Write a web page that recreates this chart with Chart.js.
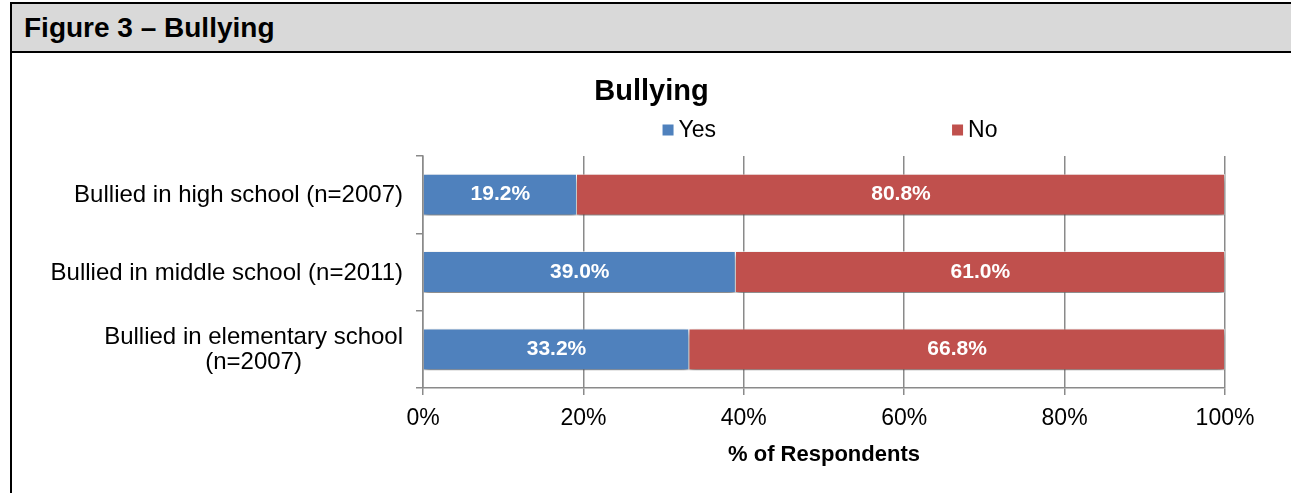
<!DOCTYPE html>
<html>
<head>
<meta charset="utf-8">
<script src="https://cdn.jsdelivr.net/npm/chart.js@4/dist/chart.umd.min.js"></script>
<style>
  body { margin: 0; background: #fff; font-family: "Liberation Sans", Arial, sans-serif; }
  #frame { position: absolute; left: 10px; top: 2px; width: 1281px; height: 491px;
           border-left: 2px solid #000; border-top: 2px solid #000; box-sizing: border-box; }
  #head { position: absolute; left: 0; top: 0; width: 100%; height: 49px; background: #d9d9d9;
          border-bottom: 2px solid #000; box-sizing: border-box; }
  #head span { position: absolute; left: 12px; top: 8px; font-size: 28px; font-weight: bold; color: #000; }
  #wrap { position: absolute; left: 12px; top: 53px; width: 1279px; height: 440px; }
</style>
</head>
<body>
<div id="frame"><div id="head"><span>Figure 3 – Bullying</span></div></div>
<div id="wrap"><canvas id="chart"></canvas></div>
<script>
// ── 데이터 ──
const categories = [
  ['Bullied in high school (n=2007)'],
  ['Bullied in middle school (n=2011)'],
  ['Bullied in elementary school', '(n=2007)']
];
const yesValues = [19.2, 39.0, 33.2];
const noValues = [80.8, 61.0, 66.8];
const xTicks = [0, 20, 40, 60, 80, 100];

const FONT = '"Liberation Sans", Arial, sans-serif';
const AXIS_GRAY = '#8a8a8a';

/** 막대 그림자 (엑셀 스타일) */
const shadowPlugin = {
  id: 'barShadow',
  beforeDatasetsDraw(chart) {
    const ctx = chart.ctx;
    ctx.save();
    ctx.shadowColor = 'rgba(0,0,0,0.5)';
    ctx.shadowBlur = 6;
    ctx.shadowOffsetX = 0;
    ctx.shadowOffsetY = 4;
  },
  afterDatasetsDraw(chart) {
    chart.ctx.restore();
  }
};

/** 값 라벨, 범례, y축 라벨 */
const labelPlugin = {
  id: 'customLabels',
  afterDatasetsDraw(chart) {
    const ctx = chart.ctx;
    ctx.save();
    ctx.font = 'bold 21px ' + FONT;
    ctx.fillStyle = '#fff';
    ctx.textAlign = 'center';
    ctx.textBaseline = 'middle';
    chart.data.datasets.forEach((ds, di) => {
      chart.getDatasetMeta(di).data.forEach((bar, i) => {
        const cx = (bar.x + bar.base) / 2;
        ctx.fillText(ds.data[i].toFixed(1) + '%', cx, bar.y);
      });
    });
    ctx.restore();
  },
  afterDraw(chart) {
    const ctx = chart.ctx;
    const area = chart.chartArea;
    ctx.save();

    // 범례
    ctx.font = '23px ' + FONT;
    ctx.textBaseline = 'middle';
    ctx.textAlign = 'left';
    const box = 11, gap = 236;
    const items = chart.data.datasets.map(ds => ({
      text: ds.label, color: ds.backgroundColor,
      w: box + 5 + ctx.measureText(ds.label).width
    }));
    const total = items.reduce((a, it) => a + it.w, 0) + gap * (items.length - 1);
    let x = (area.left + area.right) / 2 + 6 - total / 2;
    const ly = 77;
    items.forEach(it => {
      ctx.fillStyle = it.color;
      ctx.fillRect(x, ly - box / 2, box, box);
      ctx.fillStyle = '#000';
      ctx.fillText(it.text, x + box + 5, ly + 1);
      x += it.w + gap;
    });

    // y축 라벨
    const yScale = chart.scales.y;
    ctx.font = '24px ' + FONT;
    ctx.fillStyle = '#000';
    categories.forEach((lines, i) => {
      const py = yScale.getPixelForValue(i);
      const right = area.left - 20;
      if (lines.length === 1) {
        ctx.textAlign = 'right';
        ctx.fillText(lines[0], right, py + 1);
      } else {
        const w = Math.max(...lines.map(l => ctx.measureText(l).width));
        const cx = right - w / 2;
        ctx.textAlign = 'center';
        lines.forEach((l, k) => {
          ctx.fillText(l, cx, py + 1 + (k - (lines.length - 1) / 2) * 25);
        });
      }
    });
    ctx.restore();
  }
};

const ctx = document.getElementById('chart').getContext('2d');
new Chart(ctx, {
  type: 'bar',
  data: {
    labels: categories.map(c => c.join(' ')),
    datasets: [
      {
        label: 'Yes', data: yesValues,
        backgroundColor: '#4f81bd', borderColor: 'rgba(255,255,255,0.55)', borderWidth: 1,
        barPercentage: 0.54, categoryPercentage: 1
      },
      {
        label: 'No', data: noValues,
        backgroundColor: '#c0504d', borderColor: 'rgba(255,255,255,0.55)', borderWidth: 1,
        barPercentage: 0.54, categoryPercentage: 1
      }
    ]
  },
  options: {
    indexAxis: 'y',
    responsive: true,
    maintainAspectRatio: false,
    animation: false,
    layout: { padding: 0 },
    plugins: {
      legend: { display: false },
      tooltip: { enabled: false },
      title: {
        display: true, text: 'Bullying', color: '#000',
        font: { family: FONT, size: 29, weight: 'bold' },
        padding: { top: 21.6, bottom: 46.6 }
      }
    },
    scales: {
      x: {
        stacked: true, min: 0, max: 100,
        afterBuildTicks: s => { s.ticks = xTicks.map(v => ({ value: v })); },
        afterFit: s => { s.height = 105; },
        grid: { color: AXIS_GRAY, lineWidth: 1.5, tickLength: 7, tickColor: AXIS_GRAY },
        border: { color: AXIS_GRAY, width: 1.5 },
        ticks: {
          color: '#000', padding: 10, font: { family: FONT, size: 23 },
          callback: v => v + '%', maxRotation: 0
        },
        title: {
          display: true, text: '% of Respondents', color: '#000',
          font: { family: FONT, size: 22, weight: 'bold' },
          padding: { top: 0, bottom: 24.8 }
        }
      },
      y: {
        stacked: true,
        afterFit: s => { s.width = 411; },
        grid: {
          offset: true, drawOnChartArea: false, tickLength: 7,
          color: AXIS_GRAY, lineWidth: 1.5
        },
        border: { color: AXIS_GRAY, width: 1.5 },
        ticks: { display: false }
      },
      // 오른쪽 여백용 빈 축 (제목 중앙 정렬 유지)
      spacer: {
        type: 'category', position: 'right', axis: 'y',
        afterFit: s => { s.width = 66; },
        grid: { display: false },
        border: { display: false },
        ticks: { display: false }
      }
    }
  },
  plugins: [shadowPlugin, labelPlugin]
});
</script>
</body>
</html>
